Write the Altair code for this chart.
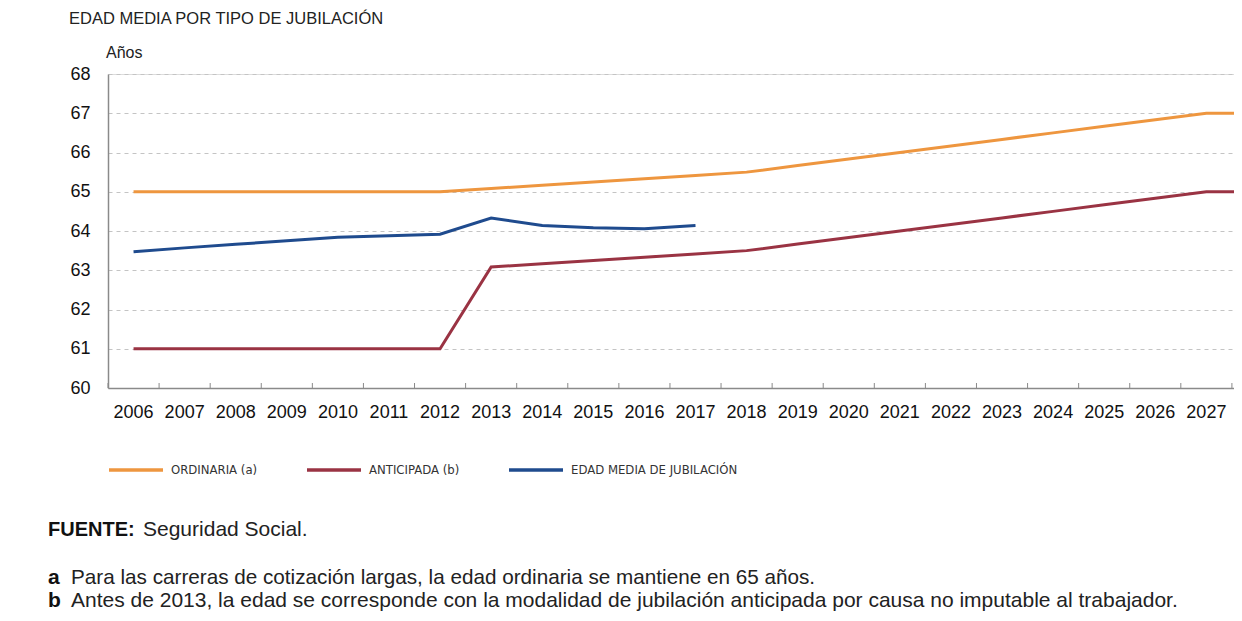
import altair as alt
import pandas as pd

# ---------------- data ----------------
years = list(range(2006, 2029))
ordinaria = [65, 65, 65, 65, 65, 65, 65,
             65.083, 65.167, 65.25, 65.333, 65.417, 65.5, 65.667, 65.833,
             66.0, 66.167, 66.333, 66.5, 66.667, 66.833, 67.0, 67.0]
anticipada = [61, 61, 61, 61, 61, 61, 61,
              63.083, 63.167, 63.25, 63.333, 63.417, 63.5, 63.667, 63.833,
              64.0, 64.167, 64.333, 64.5, 64.667, 64.833, 65.0, 65.0]
media_years = list(range(2006, 2018))
media = [63.47, 63.57, 63.66, 63.75, 63.84, 63.88, 63.92,
         64.33, 64.14, 64.08, 64.06, 64.14]

series_names = ["ORDINARIA (a)", "ANTICIPADA (b)", "EDAD MEDIA DE JUBILACIÓN"]
series_colors = ["#EE963F", "#9A3343", "#1F4B8E"]
y_ticks = [60, 61, 62, 63, 64, 65, 66, 67, 68]

title_text = ["EDAD MEDIA POR TIPO DE JUBILACIÓN"]
unit_text = ["Años"]
source_bold = ["FUENTE:"]
source_text = ["Seguridad Social."]
note_keys = ["a", "b"]
note_texts = ["Para las carreras de cotización largas, la edad ordinaria se mantiene en 65 años.",
              "Antes de 2013, la edad se corresponde con la modalidad de jubilación anticipada por causa no imputable al trabajador."]

rows = []
for y, v in zip(years, ordinaria):
    rows.append({"year": str(y), "value": v, "serie": series_names[0]})
for y, v in zip(years, anticipada):
    rows.append({"year": str(y), "value": v, "serie": series_names[1]})
for y, v in zip(media_years, media):
    rows.append({"year": str(y), "value": v, "serie": series_names[2]})
df = pd.DataFrame(rows)
year_df = pd.DataFrame({"year": [str(y) for y in years]})

FONT = "Liberation Sans, Arial, Helvetica, sans-serif"
NARROW = "Liberation Sans Narrow, DejaVu Sans Condensed, sans-serif"
W, H = 1175, 314

xscale = alt.Scale(domain=[str(y) for y in years], paddingInner=0, paddingOuter=0)
yscale = alt.Scale(domain=[60, 68], nice=False, zero=False)

lines = alt.Chart(df).mark_line(strokeWidth=3).encode(
    x=alt.X("year:O", scale=xscale, sort=None,
            axis=alt.Axis(title=None, labelAngle=0, ticks=False, grid=False,
                          domainColor="#8a8a8a", domainWidth=1.5,
                          labelFont=FONT, labelFontSize=18, labelColor="#111",
                          labelPadding=15)),
    y=alt.Y("value:Q", scale=yscale,
            axis=alt.Axis(title=None, values=y_ticks, grid=True, gridDash=[4, 4],
                          gridColor="#c4c4c4", gridWidth=1, ticks=False,
                          domainColor="#8a8a8a", domainWidth=1.5,
                          labelFont=FONT, labelFontSize=18, labelColor="#111",
                          labelPadding=18)),
    color=alt.Color("serie:N",
                    scale=alt.Scale(domain=series_names, range=series_colors),
                    legend=alt.Legend(title=None, orient="none", legendX=-1, legendY=367,
                                      direction="horizontal", symbolType="stroke",
                                      symbolSize=2916, symbolStrokeWidth=3.5,
                                      labelFont=NARROW, labelFontSize=13,
                                      labelColor="#333", labelOffset=6,
                                      labelLimit=400,
                                      columnPadding=42, padding=0)),
    detail="serie:N",
)

xticks = alt.Chart(year_df).mark_rule(color="#8a8a8a", strokeWidth=1).encode(
    x=alt.X("year:O", scale=xscale, sort=None, bandPosition=0),
    y=alt.value(H - 5), y2=alt.value(H),
)


def txt(data, x, y, size, weight="normal", color="#222", font=FONT):
    return alt.Chart(pd.DataFrame({"t": data})).mark_text(
        align="left", baseline="middle", font=font, fontSize=size,
        fontWeight=weight, color=color
    ).encode(text="t:N", x=alt.value(x), y=alt.value(y))


title = txt(title_text, -39, -55, 16.5, color="#222")
unit = txt(unit_text, -2, -21, 16, color="#222")
src_b = txt(source_bold, -60, 456, 20, weight="bold", color="#111")
src = txt(source_text, 35, 456, 21, color="#222")
a_key = txt([note_keys[0]], -60, 504, 21, weight="bold", color="#111")
a_txt = txt([note_texts[0]], -37, 504, 20.7, color="#222")
b_key = txt([note_keys[1]], -60, 527, 21, weight="bold", color="#111")
b_txt = txt([note_texts[1]], -37, 527, 21, color="#222")

chart = alt.layer(
    lines, xticks, title, unit, src_b, src, a_key, a_txt, b_key, b_txt
).properties(
    width=W, height=H,
    autosize=alt.AutoSizeParams(type="none"),
    padding={"left": 100, "top": 66, "right": -49, "bottom": 225},
).configure_view(stroke=None).configure(background="white")

chart.save("out.html", embed_options={"renderer": "svg", "actions": False})
